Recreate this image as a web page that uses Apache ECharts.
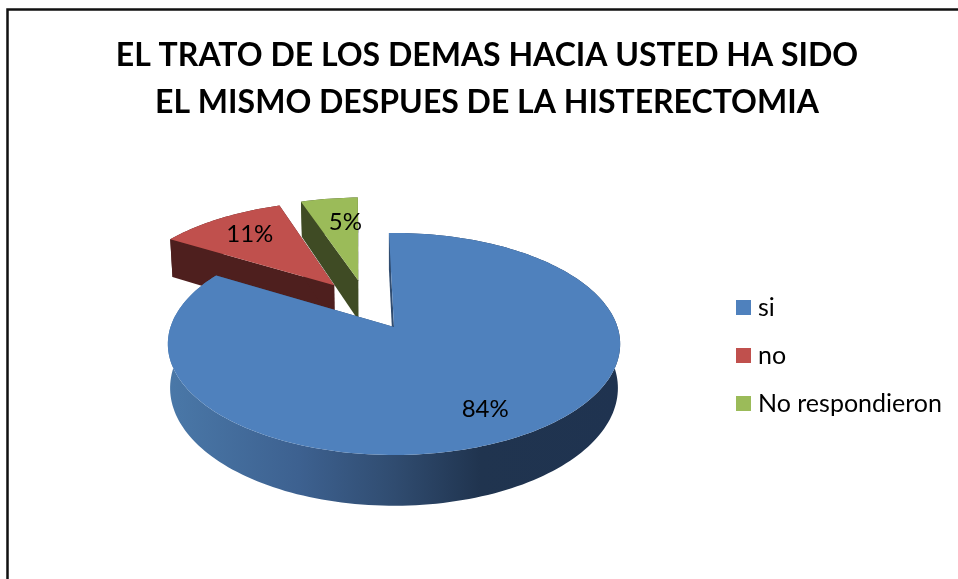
<!DOCTYPE html>
<html>
<head>
<meta charset="utf-8">
<style>html,body{margin:0;padding:0;background:#fff}#c{width:958px;height:579px}</style>
<script src="https://cdn.jsdelivr.net/npm/echarts@6/dist/echarts.min.js"></script>
</head>
<body>
<div id="c"></div>
<script>
const titleLines = ['EL TRATO DE LOS DEMAS HACIA USTED HA SIDO', 'EL MISMO DESPUES DE LA HISTERECTOMIA'];
const categories = ['si', 'no', 'No respondieron'];
const values = [84, 11, 5];
const topColors = ['#4f81bd', '#c0504d', '#9bbb59'];
const wallColors = ['#304c70', '#4e1f1e', '#3f4b24'];
const labelNudgeX = [-5, 5, 10];
const labelNudgeY = [0, 0, 4];

const FONT = 'Lato, "Open Sans", sans-serif';
const view = { ox: 394, oy: 327, a: 223.5, b: 108.4, k: 0.153, depth: 43, shrink: 0.99, explode: 0.25, rotate: -1.5, labelR: 0.767 };

const total = values.reduce((s, v) => s + v, 0);
const rad = d => d * Math.PI / 180;

function sliceAngles(i) {
  let start = view.rotate;
  for (let j = 0; j < i; j++) start += values[j] / total * 360;
  return [start, start + values[i] / total * 360];
}
// Blue slice apex is the projection origin; the pie's own centre sits opposite its explosion offset.
function sliceApex(i) {
  const m0 = sliceAngles(0), m = sliceAngles(i);
  const mid0 = rad((m0[0] + m0[1]) / 2), mid = rad((m[0] + m[1]) / 2);
  return [view.explode * (Math.sin(mid) - Math.sin(mid0)), view.explode * (Math.cos(mid) - Math.cos(mid0))];
}
function project(u, v, low) {
  const w = 1 + view.k * v;
  let x = view.a * u / w, y = -view.b * v / w;
  if (low) { x *= view.shrink; y += view.depth / w; }
  return [view.ox + x, view.oy + y];
}
function rimPoint(i, deg, low, r) {
  const c = sliceApex(i), R = r === undefined ? 1 : r;
  return project(c[0] + R * Math.sin(rad(deg)), c[1] + R * Math.cos(rad(deg)), low);
}
function arc(i, low) {
  const a = sliceAngles(i), pts = [], n = Math.ceil((a[1] - a[0]) / 1.5);
  for (let s = 0; s <= n; s++) pts.push(rimPoint(i, a[0] + (a[1] - a[0]) * s / n, low));
  return pts;
}
function renderSlice(params, api) {
  const i = params.seriesIndex === 0 ? 2 : params.seriesIndex === 1 ? 1 : 0;
  const a = sliceAngles(i);
  const top = arc(i, false), bottom = arc(i, true);
  const apexTop = rimPoint(i, 0, false, 0), apexLow = rimPoint(i, 0, true, 0);
  const wall = wallColors[i];
  const rimFill = i === 0 ? new echarts.graphic.LinearGradient(0, 0, 1, 0, [
    { offset: 0, color: '#4a78a8' }, { offset: 0.29, color: '#3d6190' },
    { offset: 0.5, color: '#304c70' }, { offset: 0.69, color: '#20344f' }, { offset: 1, color: '#1f3350' }
  ]) : wall;
  const poly = (points, fill) => ({ type: 'polygon', shape: { points }, style: { fill }, silent: true });
  const mid = (a[0] + a[1]) / 2;
  const lp = rimPoint(i, mid, false, view.labelR);
  return {
    type: 'group',
    children: [
      poly(top.concat(bottom.slice().reverse()), rimFill),
      poly([apexTop, top[0], bottom[0], apexLow], wall),
      poly([apexTop, top[top.length - 1], bottom[bottom.length - 1], apexLow], wall),
      poly([apexTop].concat(top), topColors[i]),
      { type: 'text', silent: true, style: { x: lp[0] + labelNudgeX[i], y: lp[1] + 2 + labelNudgeY[i], text: api.value(0) + '%', fill: '#000', font: '24px ' + FONT, align: 'center', verticalAlign: 'middle' } }
    ]
  };
}
const order = [2, 1, 0];
const chart = echarts.init(document.getElementById('c'), null, { renderer: 'canvas' });
chart.setOption({
  animation: false,
  backgroundColor: '#fff',
  title: {
    text: titleLines.join('\n'), left: 482, top: 27, textAlign: 'center',
    textStyle: { fontFamily: FONT, fontWeight: 'bold', fontSize: 32, lineHeight: 47, color: '#000' }
  },
  legend: {
    data: categories, orient: 'vertical', left: 731, top: 290, icon: 'rect', itemWidth: 15, itemHeight: 15, itemGap: 23,
    textStyle: { fontFamily: FONT, fontSize: 25, color: '#000', lineHeight: 22, padding: [0, 0, 0, 2] }, selectedMode: false
  },
  graphic: [{ type: 'polyline', silent: true, shape: { points: [[7.5, 579], [7.5, 9.5], [958, 9.5]] }, style: { stroke: '#111', lineWidth: 2.5, fill: null } }],
  series: order.map(i => ({
    type: 'custom', name: categories[i], coordinateSystem: 'none', silent: true,
    itemStyle: { color: topColors[i] }, data: [[values[i]]], renderItem: renderSlice
  }))
});
</script>
</body>
</html>
